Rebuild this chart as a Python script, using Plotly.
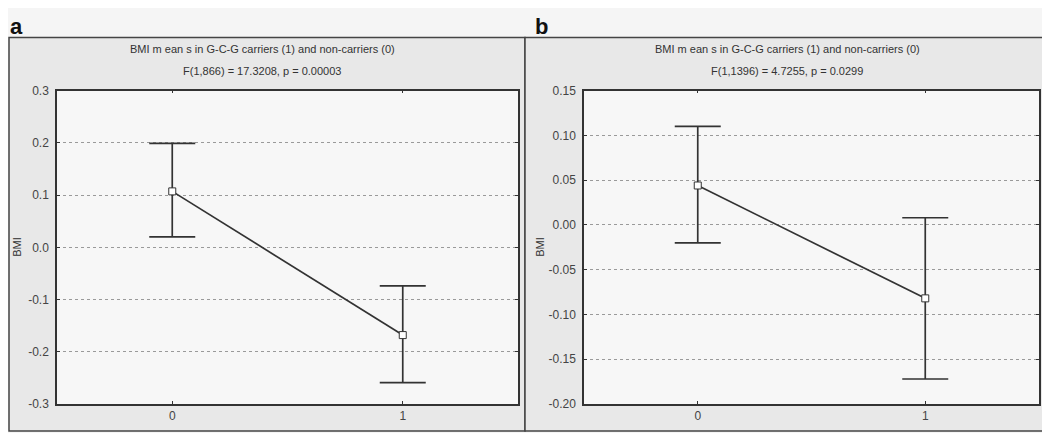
import plotly.graph_objects as go

# group codes: 0 = non-carriers, 1 = G-C-G carriers
groups = [0, 1]
group_labels = ["0", "1"]

# panel a: means and upper / lower interval ends
a_mean = [0.107, -0.168]
a_upper = [0.199, -0.074]
a_lower = [0.020, -0.259]
a_title = ["BMI m ean s in G-C-G carriers (1) and non-carriers (0)", "F(1,866) = 17.3208, p = 0.00003"]
a_ticks = [0.3, 0.2, 0.1, 0.0, -0.1, -0.2, -0.3]
a_ticktext = ["0.3", "0.2", "0.1", "0.0", "-0.1", "-0.2", "-0.3"]

# panel b
b_mean = [0.044, -0.082]
b_upper = [0.110, 0.008]
b_lower = [-0.020, -0.172]
b_title = ["BMI m ean s in G-C-G carriers (1) and non-carriers (0)", "F(1,1396) = 4.7255, p = 0.0299"]
b_ticks = [0.15, 0.10, 0.05, 0.00, -0.05, -0.10, -0.15, -0.20]
b_ticktext = ["0.15", "0.10", "0.05", "0.00", "-0.05", "-0.10", "-0.15", "-0.20"]

# screenshot puts the figure 8px in and ~14.6px down, squeezed to 0.966 vertically
LEFT, TOP, SY = 8, 14.6, 0.966
W, H = 1050 - LEFT, 433
INK = "#333333"
FONT = "Liberation Sans, Arial, sans-serif"


def px_x(v):
    return (v - LEFT) / W


def px_y(v):
    return 1 - (v - TOP) / SY / H


def mean_trace(mean, upper, lower, xa, ya):
    return go.Scatter(
        x=groups, y=mean, xaxis=xa, yaxis=ya, mode="lines+markers",
        line=dict(color=INK, width=1.7),
        marker=dict(symbol="square", size=7, color="white", line=dict(color=INK, width=1)),
        error_y=dict(type="data", symmetric=False,
                     array=[u - m for u, m in zip(upper, mean)],
                     arrayminus=[m - l for m, l in zip(mean, lower)],
                     color=INK, thickness=1.7, width=23),
        showlegend=False, cliponaxis=False,
    )


fig = go.Figure()
fig.add_trace(mean_trace(a_mean, a_upper, a_lower, "x", "y"))
fig.add_trace(mean_trace(b_mean, b_upper, b_lower, "x2", "y2"))

xcommon = dict(range=[-0.5, 1.5], tickvals=groups, ticktext=group_labels,
               showgrid=False, zeroline=False, showline=True, linecolor=INK, linewidth=1.5,
               mirror="allticks", ticks="inside", ticklen=3, tickcolor=INK,
               tickfont=dict(size=12, color="#444", family=FONT))
ycommon = dict(showgrid=True, gridcolor="#9a9a9a", griddash="dot", gridwidth=1,
               zeroline=False, showline=True, linecolor=INK, linewidth=1.5,
               mirror="allticks", ticks="inside", ticklen=3, tickcolor=INK,
               tickfont=dict(size=12, color="#444", family=FONT), ticklabelstandoff=4)

ydom = [px_y(403), px_y(90)]
fig.update_layout(
    width=W, height=H, margin=dict(l=0, r=0, t=0, b=0),
    paper_bgcolor="#f5f5f5", plot_bgcolor="#f7f7f7",
    font=dict(family=FONT, color=INK),
    xaxis=dict(domain=[px_x(57), px_x(518)], anchor="y", **xcommon),
    yaxis=dict(domain=ydom, anchor="x", range=[-0.3, 0.3], tickvals=a_ticks, ticktext=a_ticktext, **ycommon),
    xaxis2=dict(domain=[px_x(584), px_x(1039)], anchor="y2", **xcommon),
    yaxis2=dict(domain=ydom, anchor="x2", range=[-0.2, 0.15], tickvals=b_ticks, ticktext=b_ticktext, **ycommon),
)

# outer panel frames
for x0, x1 in [(9, 525), (525, 1047)]:
    fig.add_shape(type="rect", xref="paper", yref="paper", layer="below",
                  x0=px_x(x0), x1=px_x(x1), y0=px_y(430), y1=px_y(37),
                  fillcolor="#e8e8e8", line=dict(color="#444", width=1.5))

# light plot-area backgrounds on top of the frame fill
for xr, yr in [("x domain", "y domain"), ("x2 domain", "y2 domain")]:
    fig.add_shape(type="rect", xref=xr, yref=yr, layer="below",
                  x0=0, x1=1, y0=0, y1=1, fillcolor="#f7f7f7", line=dict(width=0))

# panel letters, titles, y titles
for letter, lx, title, cx, bx in [("a", 9, a_title, 262, 17), ("b", 534, b_title, 787, 540)]:
    fig.add_annotation(text="<b>%s</b>" % letter, xref="paper", yref="paper",
                       x=px_x(lx), y=1 + 2 / H, xanchor="left", yanchor="top", showarrow=False,
                       borderpad=0, font=dict(size=22, color="#111", family=FONT))
    for line, ly in zip(title, [49, 71]):
        fig.add_annotation(text=line, xref="paper", yref="paper",
                           x=px_x(cx), y=px_y(ly), xanchor="center", yanchor="middle", showarrow=False,
                           font=dict(size=11, color="#333", family=FONT))
    fig.add_annotation(text="BMI", xref="paper", yref="paper", textangle=-90,
                       x=px_x(bx), y=px_y(246), xanchor="center", yanchor="middle", showarrow=False,
                       font=dict(size=11, color="#333", family=FONT))

fig.write_html("out.html")
